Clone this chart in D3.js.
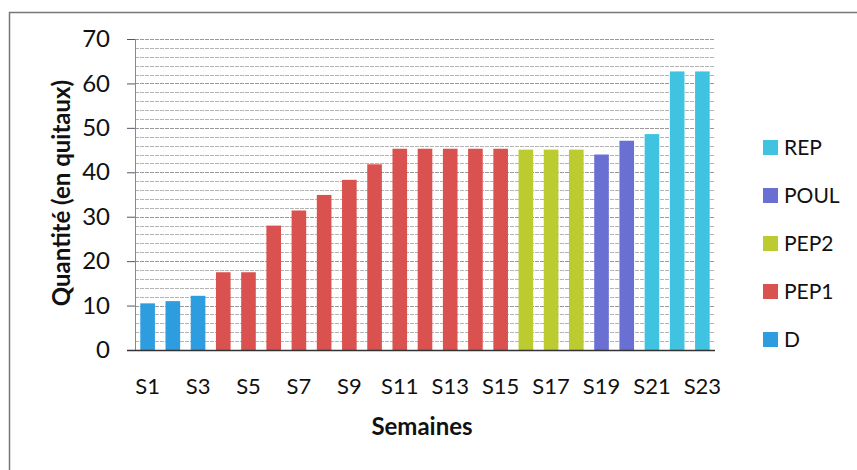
<!DOCTYPE html>
<html>
<head>
<meta charset="utf-8">
<script src="https://cdn.jsdelivr.net/npm/d3@7"></script>
<style>
  body { margin: 0; background: #fff; }
  svg { display: block; font-family: Lato, "Open Sans", sans-serif; }
</style>
</head>
<body>
<svg width="857" height="470"></svg>
<script>
var weeks = ["S1","S2","S3","S4","S5","S6","S7","S8","S9","S10","S11","S12",
             "S13","S14","S15","S16","S17","S18","S19","S20","S21","S22","S23"];
var quantities = [10.5, 11, 12.2, 17.5, 17.5, 28, 31.4, 34.9, 38.3, 41.8, 45.3, 45.3,
                  45.3, 45.3, 45.3, 45.1, 45.1, 45.1, 44, 47.1, 48.6, 62.7, 62.7];
var seriesOf = ["D","D","D","PEP1","PEP1","PEP1","PEP1","PEP1","PEP1","PEP1","PEP1","PEP1",
                "PEP1","PEP1","PEP1","PEP2","PEP2","PEP2","POUL","POUL","REP","REP","REP"];
var legendKeys = ["REP", "POUL", "PEP2", "PEP1", "D"];
var yTicks = [0, 10, 20, 30, 40, 50, 60, 70];

var svg = d3.select("svg");

var color = d3.scaleOrdinal()
  .domain(["D", "PEP1", "PEP2", "POUL", "REP"])
  .range(["#2d9de0", "#d9524f", "#bccb2f", "#6a6fd2", "#3fc3e0"]);

var x = d3.scaleBand().domain(weeks).range([135, 715]).paddingInner(0.42).paddingOuter(0.21);
var y = d3.scaleLinear().domain([0, 70]).range([350, 39]);

// frame (only top and left edges show in the scan)
svg.append("path").attr("d", "M9.5,470V12.5H857")
  .attr("fill", "none").attr("stroke", "#777").attr("stroke-width", 1.5);

// grid lines every 2
svg.append("g").selectAll("line").data(d3.range(2, 71, 2)).enter().append("line")
  .attr("x1", 135).attr("x2", 715)
  .attr("y1", function (d) { return Math.round(y(d)) + 0.5; })
  .attr("y2", function (d) { return Math.round(y(d)) + 0.5; })
  .attr("stroke", function (d) { return d % 10 == 0 ? "#999" : "#b4b4b4"; })
  .attr("stroke-dasharray", "4,1");

// bars
svg.append("g").selectAll("rect").data(weeks).enter().append("rect")
  .attr("x", function (d) { return x(d); })
  .attr("width", x.bandwidth())
  .attr("y", function (d, i) { return y(quantities[i]); })
  .attr("height", function (d, i) { return y(0) - y(quantities[i]); })
  .attr("fill", function (d, i) { return color(seriesOf[i]); });

// y axis
var yAxis = svg.append("g").attr("transform", "translate(135,0)")
  .call(d3.axisLeft(y).tickValues(yTicks).tickSize(8).tickPadding(17));
yAxis.select(".domain").attr("stroke", "#888");
yAxis.selectAll(".tick line").attr("stroke", "#556");
yAxis.selectAll(".tick text").attr("font-size", 24).attr("fill", "#111")
  .attr("font-family", "Lato, sans-serif");

// x axis
var xAxis = svg.append("g").attr("transform", "translate(0,350)")
  .call(d3.axisBottom(x).tickSize(0).tickPadding(28)
    .tickFormat(function (d, i) { return i % 2 == 0 ? d : ""; }));
xAxis.select(".domain").attr("d", "M127,0.5H715").attr("stroke", "#333").attr("stroke-width", 1.5);
xAxis.selectAll(".tick text").attr("font-size", 22).attr("fill", "#111")
  .attr("font-family", "Lato, sans-serif");

// axis titles
svg.append("text").attr("x", 422).attr("y", 435).attr("text-anchor", "middle")
  .attr("font-size", 24).attr("font-weight", "bold").attr("fill", "#111").text("Semaines");

svg.append("text").attr("transform", "translate(70,193) rotate(-90)").attr("text-anchor", "middle")
  .attr("font-size", 24).attr("font-weight", "bold").attr("fill", "#111").text("Quantité (en quitaux)");

// legend
var legend = svg.append("g").selectAll("g").data(legendKeys).enter().append("g")
  .attr("transform", function (d, i) { return "translate(763," + (147.5 + i * 48) + ")"; });

legend.append("rect").attr("x", 0).attr("y", -7.5).attr("width", 15).attr("height", 15)
  .attr("fill", function (d) { return color(d); });

legend.append("text").attr("x", 21).attr("dy", "0.36em").attr("font-size", 21)
  .attr("fill", "#111").text(function (d) { return d; });
</script>
</body>
</html>
